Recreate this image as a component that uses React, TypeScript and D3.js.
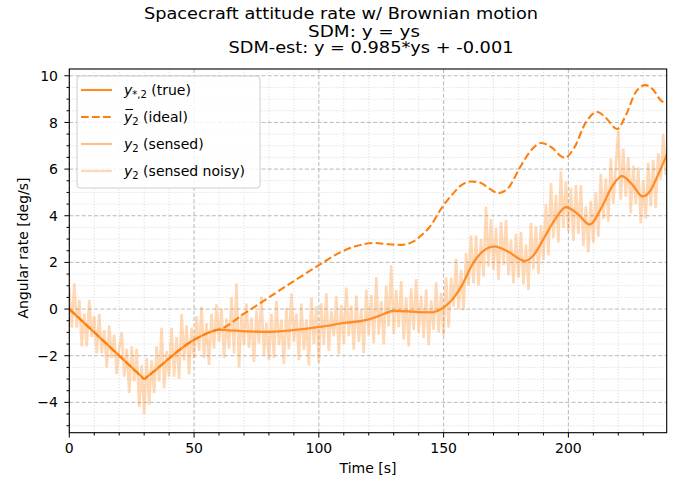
import React from "react";
import * as d3 from "d3";

// Time stamps [s] and rates [deg/s] of the true attitude rate (also the sensed rate, SDM: y = ys)
const TRUE_T = [0, 15, 29, 30, 31, 50, 59, 60, 62, 70, 80, 90, 100, 110, 119, 124, 130, 136, 141, 145, 149, 153, 157, 162, 166, 170.5, 176, 182.5, 186, 190, 195, 199, 204, 208.5, 213.5, 217.5, 221.4, 225.5, 229.7, 233, 235, 240];
const TRUE_Y = [0, -1.5, -2.9, -3, -2.92, -1.32, -0.9, -0.88, -0.9, -0.95, -0.98, -0.9, -0.77, -0.6, -0.47, -0.3, -0.08, -0.1, -0.14, -0.14, 0.0, 0.35, 0.95, 2.0, 2.5, 2.68, 2.45, 2.06, 2.3, 3.0, 3.9, 4.37, 4.05, 3.62, 4.4, 5.25, 5.7, 5.35, 4.83, 5.1, 5.53, 6.75];

// Ideal rate without Brownian drift
const IDEAL_T = [0, 15, 29, 30, 31, 50, 59, 60, 70, 80, 90, 100, 108, 115, 122, 128, 133, 138, 141, 145, 149, 153, 157, 161, 165, 168.5, 172, 176, 180.5, 185, 189.2, 193, 198.5, 202, 207, 211.6, 215, 219.5, 223, 227, 230.8, 234, 237, 240];
const IDEAL_Y = [0, -1.5, -2.9, -3, -2.92, -1.32, -0.9, -0.88, -0.2, 0.5, 1.2, 1.88, 2.4, 2.7, 2.83, 2.78, 2.75, 2.9, 3.15, 3.6, 4.3, 4.85, 5.3, 5.47, 5.4, 5.15, 4.97, 5.2, 6.05, 6.8, 7.12, 6.95, 6.48, 6.85, 8.0, 8.45, 8.2, 7.72, 8.3, 9.3, 9.6, 9.4, 8.95, 8.8];

// Noisy sensed rate, one sample per second starting at t = 0
const NOISY_T0 = 0;
const NOISY_DT = 1;
const NOISY_Y = [
  0.9, -0.8, 1.1, -0.8, 0.4, -1.6, -0.2, -1.6, 0.4, -1.2, -0.3,
  -1.9, -0.2, -1.9, -0.9, -2.5, -0.7, -2.1, -1.1, -2.8, -1.7,
  -1.0, -2.9, -1.7, -3.6, -1.6, -3.1, -1.7, -4.2, -2.4, -4.5,
  -2.1, -4.1, -2.2, -3.6, -1.6, -3.1, -0.8, -3.4, -1.8, -2.9,
  -0.8, -2.9, -1.2, -3.0, -0.2, -2.2, -0.7, -2.8, -0.8, -2.1,
  -0.3, -1.8, 0.1, -2.1, -0.6, -2.4, -0.2, -1.7, 0.2, -1.4,
  0.0, -2.1, -0.4, -1.7, 0.5, -1.9, 1.1, -2.5, -0.2, -1.55,
  0.24, -1.66, -0.37, -2.27, -0.07, -1.47, 0.53, -1.98, -0.58, -2.18,
  -0.2, -2.1, 0.35, -1.55, -0.45, -2.35, 0.05, -1.72, 0.68, -1.4,
  -0.19, -2.18, 0.24, -1.75, -0.44, -2.42, 0.49, -1.5, 0.12, -2.27,
  0.25, -1.53, 0.68, -1.8, -0.08, -1.17, 0.55, -1.93, 0.18, -1.5,
  0.92, -1.16, 0.15, -1.74, 0.58, -1.41, 0.0, -1.88, 0.83, -1.14,
  0.6, -1.47, 1.37, -1.1, 0.34, -1.52, 1.01, -0.75, 1.88, -1.08,
  0.81, -0.79, 1.2, -1.3, 0.5, -1.6, 0.89, -0.91, 1.28, -1.02,
  0.57, -1.24, 0.85, -1.55, 0.37, -0.9, 1.15, -1.0, 0.68, -1.13,
  1.36, -0.8, 1.35, 0.1, 2.15, 0.0, 1.67, -0.05, 2.4, 1.0,
  3.15, 1.1, 3.15, 1.0, 3.0, 1.4, 4.38, 1.83, 3.86, 1.68,
  3.48, 1.26, 3.73, 1.88, 3.82, 1.45, 2.98, 1.1, 3.22, 1.35,
  3.3, 1.06, 2.77, 0.82, 3.7, 1.7, 3.55, 1.52, 3.6, 2.1,
  4.5, 2.3, 5.4, 3.05, 4.9, 2.85, 5.9, 3.48, 5.47, 3.35,
  5.2, 2.92, 5.32, 3.22, 5.3, 2.7, 4.4, 2.43, 4.64, 2.85,
  5.0, 3.1, 5.8, 3.85, 5.6, 3.75, 6.45, 4.52, 6.15, 7.65,
  4.69, 6.88, 4.82, 6.52, 4.1, 6.15, 4.5, 6.07, 3.67, 5.53,
  3.87, 6.27, 4.4, 6.4, 4.33, 6.68, 5.55, 7.5, 5.75, 7.85,
];

const X_TICKS = [0, 50, 100, 150, 200];
const Y_TICKS = [-4, -2, 0, 2, 4, 6, 8, 10];
const X_DOMAIN = [0, 239.4];
const Y_DOMAIN = [-5.3, 10.29];

const SUPTITLE = "Spacecraft attitude rate w/ Brownian motion";
const TITLE_LINES = ["SDM: y = ys", "SDM-est: y = 0.985*ys + -0.001"];
const X_LABEL = "Time [s]";
const Y_LABEL = "Angular rate [deg/s]";

const W = 678;
const H = 482;
const M = { left: 69.3, right: 666.7, top: 69, bottom: 432.7 };
const FONT = "'DejaVu Sans', sans-serif";
const ORANGE = "#ff7f0e";

export default function App() {
  const x = d3.scaleLinear().domain(X_DOMAIN).range([M.left, M.right]);
  const y = d3.scaleLinear().domain(Y_DOMAIN).range([M.bottom, M.top]);

  const xMinor = d3.range(0, 240, 10).filter((v) => v % 50 !== 0);
  const yMinor = d3.range(-5, 10.01, 0.5).filter((v) => Math.abs(v % 2) > 1e-9);

  const lineFrom = (ts: number[], ys: number[]) =>
    d3
      .line<number>()
      .x((_, i) => x(ts[i]))
      .y((v) => y(v))
      .curve(d3.curveMonotoneX)(ys) || "";

  const truePath = lineFrom(TRUE_T, TRUE_Y);
  const idealPath = lineFrom(IDEAL_T, IDEAL_Y);
  const noisyPath =
    d3
      .line<number>()
      .x((_, i) => x(NOISY_T0 + i * NOISY_DT))
      .y((v) => y(v))(NOISY_Y) || "";

  const fmt = d3.format("d");

  const legendRows = [
    { key: "true", opacity: 0.9, dash: undefined as string | undefined, sub: "*,2", label: " (true)", bar: false },
    { key: "ideal", opacity: 1, dash: "7.7,3.3", sub: "2", label: " (ideal)", bar: true },
    { key: "sensed", opacity: 0.5, dash: undefined, sub: "2", label: " (sensed)", bar: false },
    { key: "noisy", opacity: 0.3, dash: undefined, sub: "2", label: " (sensed noisy)", bar: false },
  ];
  const rowY0 = 90;
  const rowDy = 27;

  const titleCenter = (M.left + M.right) / 2;

  return (
    <svg
      width={W}
      height={H}
      viewBox={`0 0 ${W} ${H}`}
      style={{ position: "absolute", left: 0, top: 0, background: "#fff" }}
      fontFamily={FONT}
    >
      <defs>
        <clipPath id="plot-area">
          <rect x={M.left} y={M.top} width={M.right - M.left} height={M.bottom - M.top} />
        </clipPath>
      </defs>

      {/* titles */}
      <text x={341} y={19.3} fontSize={16.2} textAnchor="middle" textLength={394} lengthAdjust="spacingAndGlyphs">
        {SUPTITLE}
      </text>
      <text x={titleCenter - 4} y={36.5} fontSize={15.6} textAnchor="middle" textLength={112} lengthAdjust="spacingAndGlyphs">
        {TITLE_LINES[0]}
      </text>
      <text x={titleCenter + 3} y={53.4} fontSize={15.6} textAnchor="middle" textLength={285} lengthAdjust="spacingAndGlyphs">
        {TITLE_LINES[1]}
      </text>

      {/* minor grid */}
      <g stroke="#d6d6d6" strokeWidth={0.8} strokeDasharray="1.2,1.8">
        {xMinor.map((v) => (
          <line key={`xm${v}`} x1={x(v)} x2={x(v)} y1={M.top} y2={M.bottom} />
        ))}
        {yMinor.map((v) => (
          <line key={`ym${v}`} x1={M.left} x2={M.right} y1={y(v)} y2={y(v)} />
        ))}
      </g>
      {/* major grid */}
      <g stroke="#b0b0b0" strokeWidth={0.9} strokeDasharray="4,2.2">
        {X_TICKS.map((v) => (
          <line key={`xg${v}`} x1={x(v)} x2={x(v)} y1={M.top} y2={M.bottom} />
        ))}
        {Y_TICKS.map((v) => (
          <line key={`yg${v}`} x1={M.left} x2={M.right} y1={y(v)} y2={y(v)} />
        ))}
      </g>

      {/* data */}
      <g clipPath="url(#plot-area)" fill="none" strokeLinejoin="round">
        <path d={truePath} stroke={ORANGE} strokeOpacity={0.7} strokeWidth={2.1} />
        <path d={idealPath} stroke={ORANGE} strokeWidth={2.1} strokeDasharray="7.7,3.3" />
        <path d={truePath} stroke={ORANGE} strokeOpacity={0.5} strokeWidth={2.1} />
        <path d={noisyPath} stroke={ORANGE} strokeOpacity={0.3} strokeWidth={2.6} strokeLinejoin="miter" strokeMiterlimit={2} />
      </g>

      {/* frame */}
      <rect
        x={M.left}
        y={M.top}
        width={M.right - M.left}
        height={M.bottom - M.top}
        fill="none"
        stroke="#000"
        strokeWidth={1.1}
      />

      {/* ticks */}
      <g stroke="#000" strokeWidth={1}>
        {X_TICKS.map((v) => (
          <line key={`xt${v}`} x1={x(v)} x2={x(v)} y1={M.bottom} y2={M.bottom + 4.9} />
        ))}
        {xMinor.map((v) => (
          <line key={`xmt${v}`} x1={x(v)} x2={x(v)} y1={M.bottom} y2={M.bottom + 2.8} />
        ))}
        {Y_TICKS.map((v) => (
          <line key={`yt${v}`} x1={M.left - 4.9} x2={M.left} y1={y(v)} y2={y(v)} />
        ))}
        {yMinor.map((v) => (
          <line key={`ymt${v}`} x1={M.left - 2.8} x2={M.left} y1={y(v)} y2={y(v)} />
        ))}
      </g>
      <g fontSize={14} fill="#000">
        {X_TICKS.map((v) => (
          <text key={`xl${v}`} x={x(v)} y={453} textAnchor="middle">
            {fmt(v)}
          </text>
        ))}
        {Y_TICKS.map((v) => (
          <text key={`yl${v}`} x={58} y={y(v) + 5.1} textAnchor="end">
            {fmt(v)}
          </text>
        ))}
      </g>

      {/* axis labels */}
      <text x={(M.left + M.right) / 2} y={473} fontSize={14} textAnchor="middle">
        {X_LABEL}
      </text>
      <text transform={`translate(27.5, 248) rotate(-90)`} fontSize={14} textAnchor="middle">
        {Y_LABEL}
      </text>

      {/* legend */}
      <rect x={77} y={76} width={183} height={112} rx={3} fill="#fff" fillOpacity={0.8} stroke="#cccccc" strokeWidth={1} />
      {legendRows.map((r, i) => {
        const cy = rowY0 + i * rowDy;
        return (
          <g key={r.key}>
            <line
              x1={81}
              x2={112}
              y1={cy}
              y2={cy}
              stroke={ORANGE}
              strokeOpacity={r.opacity}
              strokeWidth={2.1}
              strokeDasharray={r.dash}
            />
            <text x={124} y={cy + 5} fontSize={14} fill="#000">
              <tspan fontStyle="italic">y</tspan>
              <tspan fontSize={10} dy={3}>
                {r.sub}
              </tspan>
              <tspan dy={-3}>{r.label}</tspan>
            </text>
            {r.bar && <line x1={125.5} x2={133} y1={cy - 7.5} y2={cy - 7.5} stroke="#000" strokeWidth={1} />}
          </g>
        );
      })}
    </svg>
  );
}
